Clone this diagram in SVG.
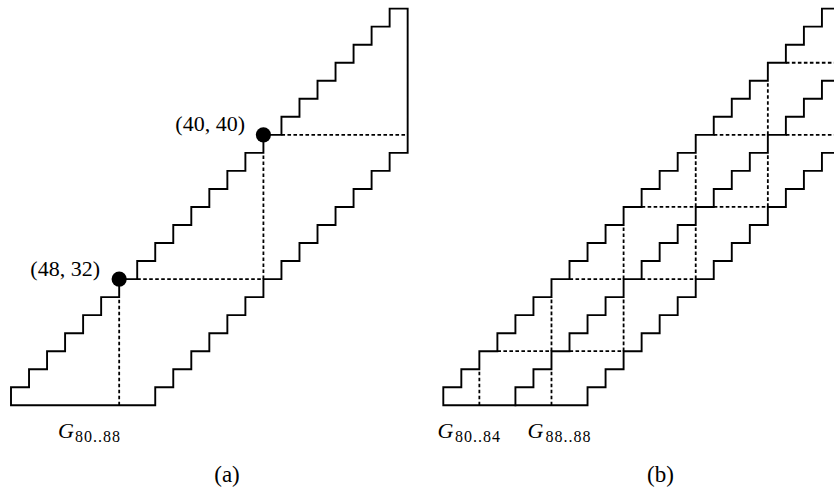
<svg xmlns="http://www.w3.org/2000/svg" width="834" height="496" viewBox="0 0 834 496">
<style>
.band{fill:none;stroke:#000;stroke-width:1.9;stroke-linejoin:miter;stroke-linecap:square}
.dash{fill:none;stroke:#000;stroke-width:1.8;stroke-dasharray:3.6 2.4}
.lbl{font-family:"Liberation Serif","Times New Roman",serif;font-size:22px;fill:#000}
.it{font-style:italic}
.sub{font-family:"Liberation Serif","Times New Roman",serif;font-size:16px;letter-spacing:1px;fill:#000}
.cap{font-family:"Liberation Serif","Times New Roman",serif;font-size:23px;fill:#000;text-anchor:middle}
</style>
<defs>
<path id="bandShape" d="M0,0v-18.03h18.03v-18.03h18.03v-18.03h18.03v-18.03h18.03v-18.03h18.03v-18.03h18.03v-18.03h18.03v-18.03h18.03v-18.03h18.03v-18.03h18.03v-18.03h18.03v-18.03h18.03v-18.03h18.03v-18.03h18.03v-18.03h18.03v-18.03h18.03v-18.03h18.03v-18.03h18.03v-18.03h18.03v-18.03h18.03v-18.03h18.03v-18.03h18.03V-252.42h-18.03v18.03h-18.03v18.03h-18.03v18.03h-18.03v18.03h-18.03v18.03h-18.03v18.03h-18.03v18.03h-18.03v18.03h-18.03v18.03h-18.03v18.03h-18.03v18.03h-18.03v18.03h-18.03v18.03h-18.03v18.03Z"/>
</defs>

<g id="panel-a">
  <g id="a-band" transform="translate(11,405.3)">
    <use href="#bandShape" class="band"/>
  </g>
  <g id="a-connectors" transform="translate(11,405.3)">
    <path class="dash" d="M108.18,0V-108.18M126.21,-126.21H252.42M252.42,-126.21V-252.42M270.45,-270.45H396.66"/>
  </g>
  <g id="a-point-48-32">
    <circle cx="119.18" cy="279.09" r="7.6" fill="#000"/>
    <text class="lbl" x="100" y="275.5" text-anchor="end">(48, 32)</text>
  </g>
  <g id="a-point-40-40">
    <circle cx="263.42" cy="134.85" r="7.6" fill="#000"/>
    <text class="lbl" x="245" y="130.7" text-anchor="end">(40, 40)</text>
  </g>
  <g id="a-label">
    <text class="lbl it" x="58" y="438">G</text>
    <text class="sub" x="75" y="442">80..88</text>
  </g>
  <text class="cap" x="227" y="481.5">(a)</text>
</g>

<g id="panel-b">
  <g id="b-band" transform="translate(443.3,405.3)">
    <use href="#bandShape" class="band"/>
    <path class="band" d="M72.12,0v-18.03h18.03v-18.03h18.03v-18.03h18.03v-18.03h18.03v-18.03h18.03v-18.03h18.03v-18.03h18.03v-18.03h18.03v-18.03h18.03v-18.03h18.03v-18.03h18.03v-18.03h18.03v-18.03h18.03v-18.03h18.03v-18.03h18.03v-18.03h18.03v-18.03h18.03v-18.03h18.03"/>
  </g>
  <g id="b-connectors" transform="translate(443.3,405.3)">
    <path class="dash" d="M36.06,0V-36.06M108.18,0V-36.06M108.18,-54.09V-108.18M180.3,-54.09V-108.18M180.3,-126.21V-180.3M252.42,-126.21V-180.3M252.42,-198.33V-252.42M324.54,-198.33V-252.42M324.54,-270.45V-324.54"/>
    <path class="dash" d="M54.09,-54.09H108.18M126.21,-54.09H180.3M126.21,-126.21H180.3M198.33,-126.21H252.42M198.33,-198.33H252.42M270.45,-198.33H324.54M270.45,-270.45H324.54M342.57,-270.45H396.66M342.57,-342.57H396.66"/>
  </g>
  <g id="b-label-80-84">
    <text class="lbl it" x="437.5" y="438">G</text>
    <text class="sub" x="455" y="442">80..84</text>
  </g>
  <g id="b-label-88-88">
    <text class="lbl it" x="527.5" y="438">G</text>
    <text class="sub" x="545.5" y="442">88..88</text>
  </g>
  <text class="cap" x="660.5" y="481.5">(b)</text>
</g>
</svg>
